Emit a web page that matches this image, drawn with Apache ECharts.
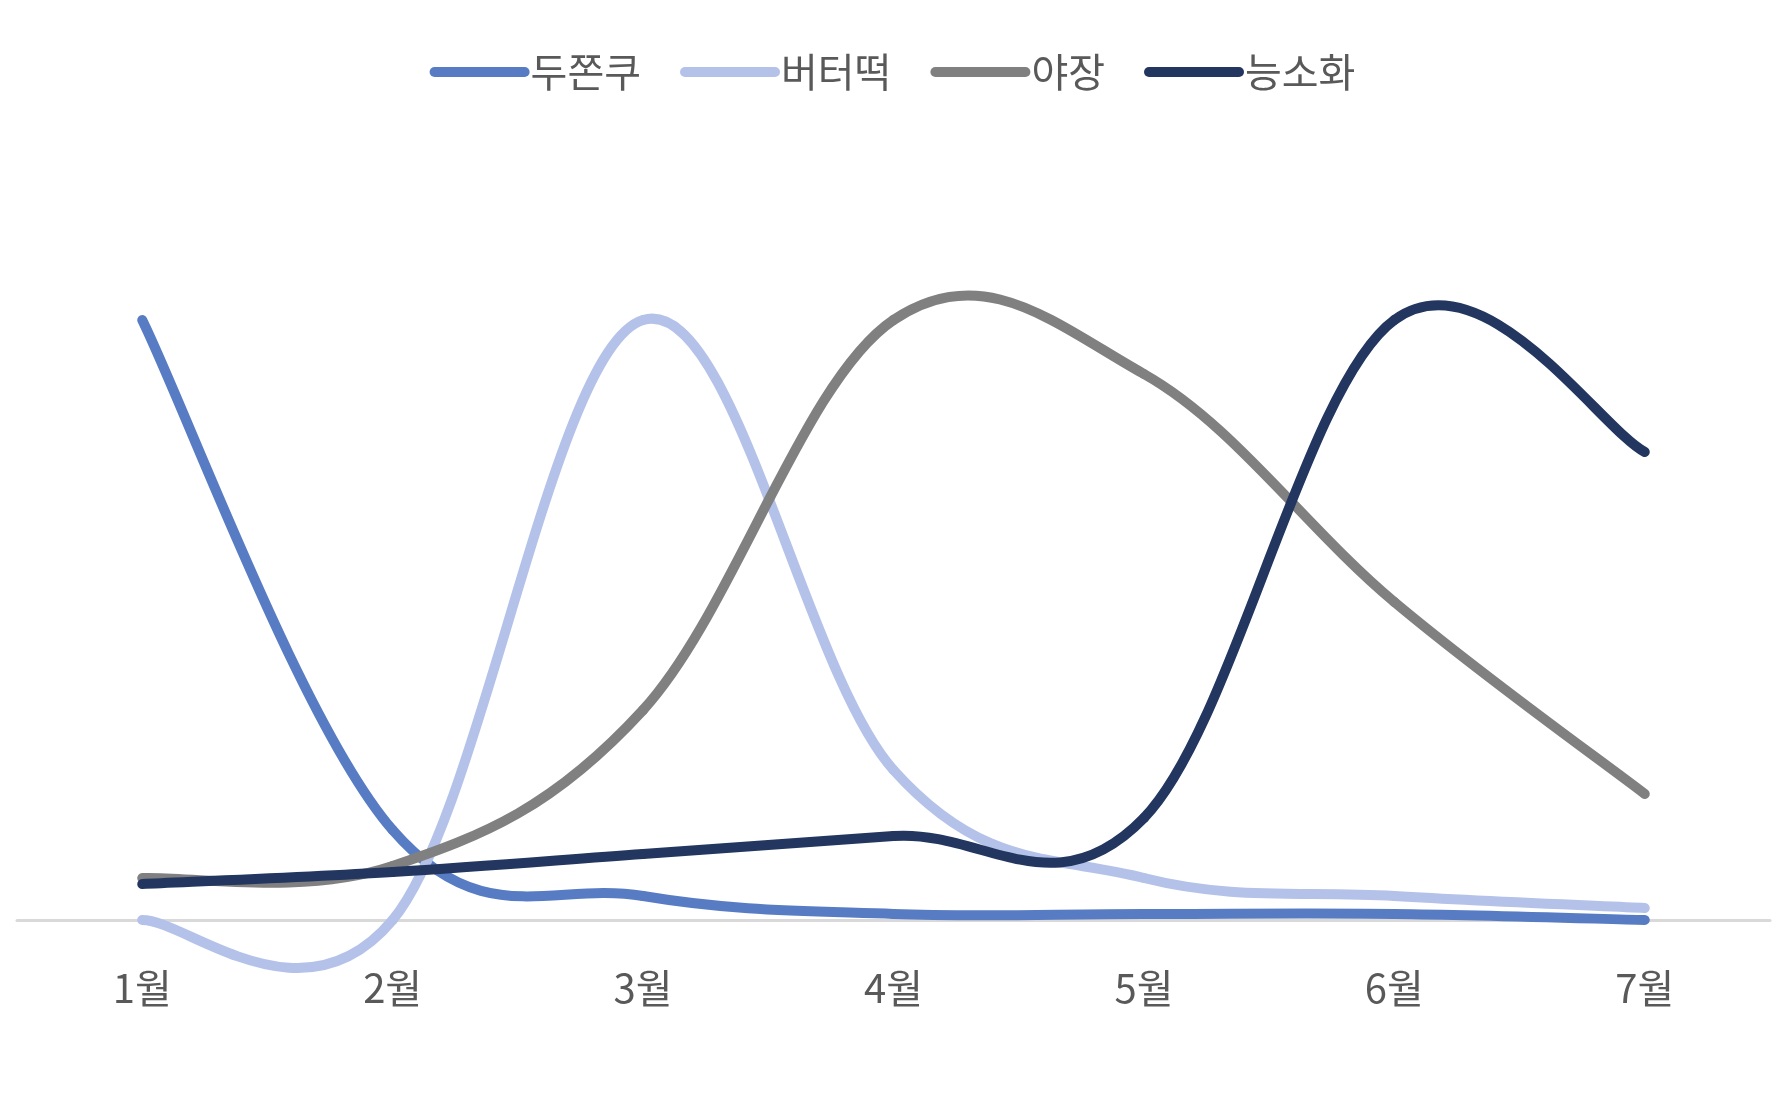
<!DOCTYPE html>
<html>
<head>
<meta charset="utf-8">
<script src="https://cdn.jsdelivr.net/npm/echarts@6/dist/echarts.min.js"></script>
<style>
html,body{margin:0;padding:0;background:#fff;}
#chart{width:1785px;height:1109px;}
</style>
</head>
<body>
<div id="chart"></div>
<script>
const categories = ['1월','2월','3월','4월','5월','6월','7월'];
const seriesNames = ['두쫀쿠','버터떡','야장','능소화'];
const dujjonku = [100, 15, 4, 1, 1, 1, 0];
const butterTteok = [0, 0, 100, 25, 7, 4, 2];
const yajang = [7, 9, 35, 100, 91, 53, 21];
const neungsohwa = [6, 8, 11, 14, 17, 100, 78];
const colors = ['#587CC4', '#B4C2EA', '#808080', '#22365F'];

const values = [dujjonku, butterTteok, yajang, neungsohwa];
const font = "'Noto Sans CJK KR', 'Noto Sans', sans-serif";
const TENSION = 0.18;

// Excel-like smoothed segment (Catmull-Rom style Bezier) between point k and k+1,
// all positions obtained from the axes through api.coord.
function makeRenderItem(arr, color) {
  return function (params, api) {
    const k = params.dataIndex;
    const n = arr.length;
    if (k >= n - 1) return null;
    const P = (j) => api.coord([j, arr[j]]);
    const p1 = P(k);
    const p2 = P(k + 1);
    const p0 = k > 0 ? P(k - 1) : p1;
    const p3 = k + 2 < n ? P(k + 2) : p2;
    const c1 = [p1[0] + (p2[0] - p0[0]) * TENSION, p1[1] + (p2[1] - p0[1]) * TENSION];
    const c2 = [p2[0] - (p3[0] - p1[0]) * TENSION, p2[1] - (p3[1] - p1[1]) * TENSION];
    return {
      type: 'bezierCurve',
      shape: { x1: p1[0], y1: p1[1], x2: p2[0], y2: p2[1], cpx1: c1[0], cpy1: c1[1], cpx2: c2[0], cpy2: c2[1] },
      style: { stroke: color, lineWidth: 10, fill: null, lineCap: 'round', lineJoin: 'round' },
      silent: true
    };
  };
}

const chart = echarts.init(document.getElementById('chart'));
chart.setOption({
  animation: false,
  backgroundColor: '#ffffff',
  color: colors,
  legend: {
    top: 47,
    left: 'center',
    itemWidth: 100,
    itemHeight: 10,
    itemGap: 39,
    icon: 'path://M5,0 L95,0 A5,5 0 0 1 95,10 L5,10 A5,5 0 0 1 5,0 Z',
    textStyle: { fontSize: 40, color: '#595959', fontFamily: font, padding: [0,0,0,-4] },
    data: seriesNames
  },
  grid: { left: 17, right: 15, top: 200, bottom: 189, containLabel: false },
  xAxis: {
    type: 'category',
    data: categories,
    boundaryGap: true,
    axisLine: { lineStyle: { color: '#d9d9d9', width: 3 } },
    axisTick: { show: false },
    axisLabel: { margin: 48, fontSize: 40, color: '#595959', fontFamily: font },
    splitLine: { show: false }
  },
  yAxis: {
    type: 'value',
    min: 0,
    max: 120,
    show: false,
    splitLine: { show: false }
  },
  series: seriesNames.map((name, i) => ({
    name: name,
    type: 'custom',
    clip: false,
    data: values[i].map((v, k) => [k, v]),
    encode: { x: 0, y: 1 },
    itemStyle: { color: colors[i] },
    renderItem: makeRenderItem(values[i], colors[i])
  }))
});
</script>
</body>
</html>
